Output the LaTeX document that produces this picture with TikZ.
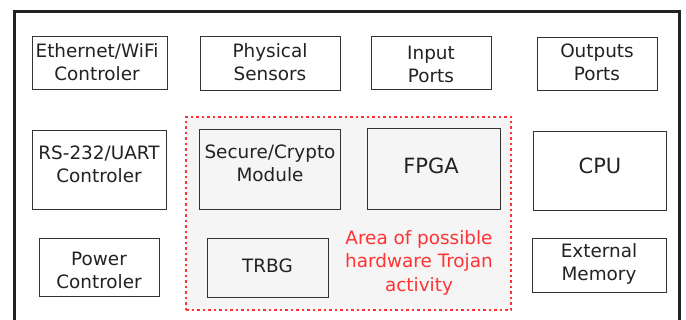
\documentclass[tikz,border=0pt]{standalone}
\usepackage{fontspec}
\setmainfont{DejaVu Sans}
\definecolor{framec}{HTML}{222222}
\definecolor{boxc}{HTML}{333333}
\definecolor{txtc}{HTML}{222222}
\definecolor{regfill}{HTML}{F5F5F5}
\definecolor{redc}{HTML}{FF3333}
\begin{document}
\begin{tikzpicture}[x=1pt,y=-1pt,
  box/.style={draw=boxc, line width=1pt, inner sep=0pt, outer sep=0pt},
  txt/.style={text=txtc, align=center, inner sep=0pt, font=\fontsize{18.4}{23}\selectfont},
  bigtxt/.style={text=txtc, align=center, inner sep=0pt, font=\fontsize{21}{25}\selectfont},
  redtxt/.style={text=redc, align=center, inner sep=0pt, font=\fontsize{18.4}{23.5}\selectfont},
  region/.style={draw=redc, fill=regfill, line width=1.2pt, dash pattern=on 2.5pt off 3pt, inner sep=0pt},
  frame/.style={draw=framec, line width=3pt}]
\useasboundingbox (0,0) rectangle (686,320);
\fill[white] (0,0) rectangle (686,320);
% outer frame (bottom edge outside the picture)
\coordinate (f1) at (14.7,330);
\coordinate (f2) at (14.7,11.7);
\coordinate (f3) at (679.3,11.7);
\coordinate (f4) at (679.3,330);
\draw[frame] (f1) -- (f2) -- (f3) -- (f4);
% region
\node[region, minimum width=325pt, minimum height=193pt] (reg) at (348.5,213.5) {};
% boxes
\node[box, minimum width=135pt, minimum height=53pt] (eth) at (99.5,63.5) {};
\node[box, minimum width=140pt, minimum height=54pt] (phys) at (270,64) {};
\node[box, minimum width=120pt, minimum height=53pt] (inp) at (431,63.5) {};
\node[box, minimum width=120pt, minimum height=53pt] (outp) at (597,64.5) {};
\node[box, minimum width=134pt, minimum height=79pt] (rs) at (99,170.5) {};
\node[box, minimum width=141pt, minimum height=80pt] (sec) at (269.5,170) {};
\node[box, minimum width=133pt, minimum height=81pt] (fpga) at (433.5,169.5) {};
\node[box, minimum width=133pt, minimum height=79pt] (cpu) at (599.5,171.5) {};
\node[box, minimum width=120pt, minimum height=58pt] (pow) at (99,268) {};
\node[box, minimum width=121pt, minimum height=59pt] (trbg) at (267.5,268.5) {};
\node[box, minimum width=134pt, minimum height=54pt] (mem) at (599,266) {};
% texts
\node[txt] (etht) at (97,62) {Ethernet/WiFi\\Controler};
\node[txt] (physt) at (270,62.5) {Physical\\Sensors};
\node[txt] (inpt) at (431,64.5) {Input\\Ports};
\node[txt] (outpt) at (597,62.3) {Outputs\\Ports};
\node[txt] (rst) at (99,164) {RS-232/UART\\Controler};
\node[txt] (sect) at (270,163.5) {Secure/Crypto\\Module};
\node[bigtxt] (fpgat) at (431,165.5) {FPGA};
\node[bigtxt] (cput) at (600,165.5) {CPU};
\node[txt] (powt) at (99,270) {Power\\Controler};
\node[txt] (trbgt) at (267.5,266) {TRBG};
\node[txt] (memt) at (599,264) {External\\Memory};
\node[redtxt] (area) at (419,262.5) {Area of possible\\hardware Trojan\\activity};
\end{tikzpicture}
\end{document}
